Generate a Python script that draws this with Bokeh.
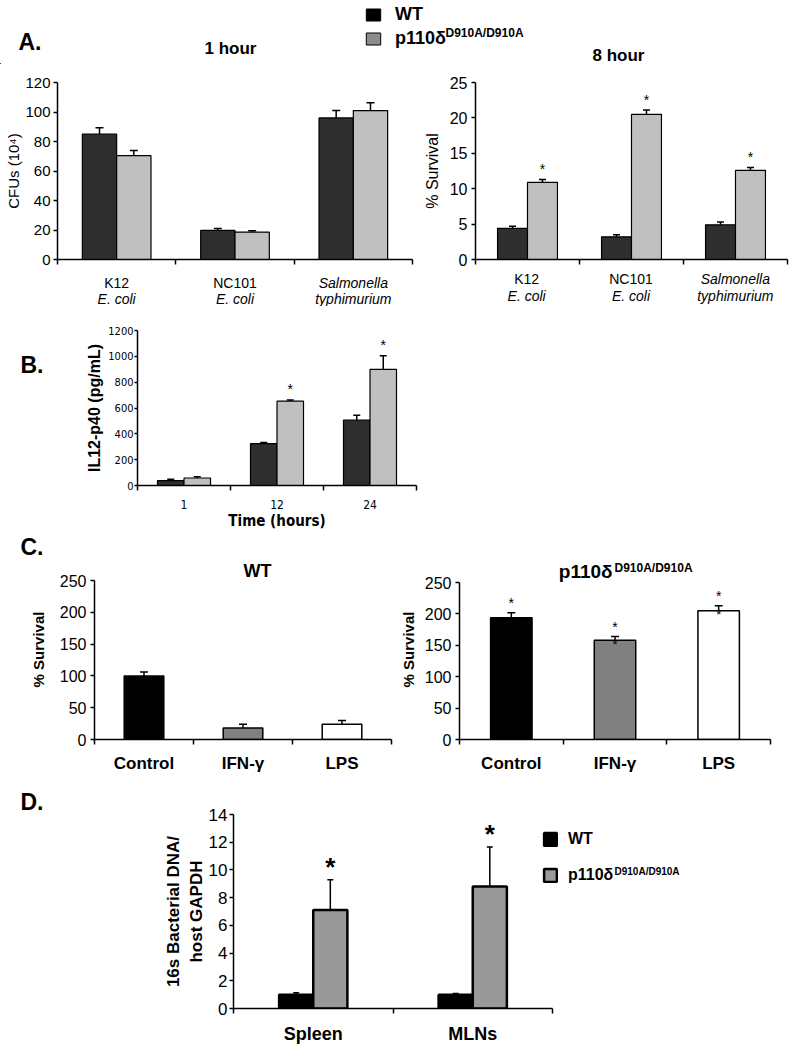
import numpy as np
from bokeh.plotting import figure
from bokeh.models import (ColumnDataSource, Range1d, FixedTicker, Whisker, TeeHead,
                          Label, LabelSet, Legend, LegendItem, Title)
from bokeh.layouts import column, row
from bokeh.embed import file_html
from bokeh.resources import INLINE
from bokeh.core.properties import value

# ---------------- data ----------------
a_line1 = ["K12", "NC101", "Salmonella"]
a_line2 = ["E. coli", "E. coli", "typhimurium"]
a_style1 = ["normal", "normal", "italic"]
a_style2 = ["italic", "italic", "italic"]

a1_wt = [85.0, 19.7, 96.0]
a1_wt_err = [4.4, 1.3, 5.1]
a1_mut = [70.4, 18.6, 101.0]
a1_mut_err = [3.5, 0.9, 5.3]

a2_wt = [4.4, 3.2, 4.9]
a2_wt_err = [0.3, 0.3, 0.4]
a2_mut = [10.9, 20.5, 12.6]
a2_mut_err = [0.4, 0.6, 0.4]
a2_sig = ["*", "*", "*"]

b_times = ["1", "12", "24"]
b_wt = [38, 324, 507]
b_wt_err = [10, 8, 36]
b_mut = [58, 653, 899]
b_mut_err = [10, 8, 106]
b_sig = ["", "*", "*"]

c_treat = ["Control", "IFN-γ", "LPS"]
c_colors = ["#000000", "#808080", "#ffffff"]
c_wt = [100, 18, 24]
c_wt_err = [6, 6, 6]
c_mut = [194, 158, 205]
c_mut_err = [8, 6, 8]
c_mut_sig = ["*", "*", "*"]
c_mut_inner = ["", "*", "*"]

d_tissue = ["Spleen", "MLNs"]
d_wt = [1.0, 1.0]
d_wt_err = [0.13, 0.08]
d_mut = [7.1, 8.8]
d_mut_err = [2.2, 2.85]
d_sig = ["*", "*"]

WT_NAME = "WT"
MUT_NAME = "p110δ"
MUT_SUP = "D910A/D910A"

FONT = "Liberation Sans"
NARROW = "Liberation Sans Narrow, DejaVu Sans Condensed, Liberation Sans"


class Geo:
    """pixel geometry of a figure's frame (page coordinates) and its data ranges"""

    def __init__(self, fl, fr, ft, fb, x0, x1, y0, y1):
        self.fl, self.fr, self.ft, self.fb = fl, fr, ft, fb
        self.x0, self.x1, self.y0, self.y1 = x0, x1, y0, y1

    def dx(self, X):
        return self.x0 + (X - self.fl) / (self.fr - self.fl) * (self.x1 - self.x0)

    def dy(self, Y):
        return self.y0 + (self.fb - Y) / (self.fb - self.ft) * (self.y1 - self.y0)


def strip(w, h, page_left, page_top):
    p = figure(width=w, height=h, x_range=Range1d(0, w), y_range=Range1d(0, h),
               min_border=0, x_axis_location=None, y_axis_location=None,
               output_backend="svg", toolbar_location=None)
    p.outline_line_color = None
    p.grid.visible = False
    g = Geo(page_left, page_left + w, page_top, page_top + h, 0, w, 0, h)
    return p, g


def base_fig(w, h, left, right, top, bottom, xend, ncat, yend, ymax, yticks):
    p = figure(width=w, height=h, min_border_left=left, min_border_right=right,
               min_border_top=top, min_border_bottom=bottom,
               x_range=Range1d(0, xend), y_range=Range1d(0, yend),
               output_backend="svg", toolbar_location=None)
    p.grid.visible = False
    p.outline_line_color = None
    for ax in p.axis:
        ax.axis_line_color = "black"
        ax.axis_line_width = 1.5
        ax.major_tick_line_color = "black"
        ax.minor_tick_line_color = "black"
        ax.major_tick_line_width = 1.5
        ax.minor_tick_line_width = 1.5
        ax.major_tick_in = 0
        ax.minor_tick_in = 0
        ax.major_label_text_font = FONT
        ax.major_label_text_color = "black"
        ax.axis_label_text_font = FONT
        ax.axis_label_text_color = "black"
    p.yaxis.ticker = FixedTicker(ticks=yticks, minor_ticks=[])
    p.yaxis.major_tick_out = 4
    p.yaxis.minor_tick_out = 0
    p.yaxis.bounds = (0, ymax)
    centers = [i + 0.5 for i in range(ncat)]
    p.xaxis.ticker = FixedTicker(ticks=centers, minor_ticks=list(range(ncat + 1)))
    p.xaxis.major_tick_out = 0
    p.xaxis.minor_tick_out = 5
    p.xaxis.bounds = (0, ncat)
    return p, np.array(centers)


def lab(p, g, X, Y, text, size, style="bold", align="left", baseline="middle"):
    p.add_layout(Label(x=g.dx(X), y=g.dy(Y), text=text, text_font=FONT,
                       text_font_size=size, text_font_style=style,
                       text_align=align, text_baseline=baseline, text_color="black"))


def grouped(p, centers, w, wt, wt_err, mut, mut_err, wt_color, mut_color, lw, cap, sig=None,
            star_size="14px", star_off=2, star_style="normal"):
    src_wt = ColumnDataSource(dict(x=centers - w / 2, top=wt,
                                   upper=np.array(wt) + np.array(wt_err)))
    src_mut = ColumnDataSource(dict(x=centers + w / 2, top=mut,
                                    upper=np.array(mut) + np.array(mut_err),
                                    sig=sig if sig is not None else [""] * len(mut)))
    r1 = p.vbar(x="x", top="top", width=w, bottom=0, source=src_wt, fill_color=wt_color,
                line_color="black", line_width=lw)
    r2 = p.vbar(x="x", top="top", width=w, bottom=0, source=src_mut, fill_color=mut_color,
                line_color="black", line_width=lw)
    for s in (src_wt, src_mut):
        p.add_layout(Whisker(base="x", lower="top", upper="upper", source=s,
                             lower_head=None,
                             upper_head=TeeHead(size=cap, line_width=1.5, line_color="black"),
                             line_width=1.5, line_color="black"))
    if sig is not None:
        p.add_layout(LabelSet(x="x", y="upper", text="sig", source=src_mut,
                              text_align="center", text_baseline="bottom", y_offset=star_off,
                              text_font=value(FONT), text_font_size=star_size,
                              text_font_style=star_style, text_color="black"))
    return r1, r2


def legend(items, loc, gw, gh, standoff, spacing, size):
    return Legend(items=items, location=loc, glyph_width=gw, glyph_height=gh,
                  label_standoff=standoff, spacing=spacing, padding=0, margin=0,
                  border_line_color=None, background_fill_alpha=0, label_text_font=FONT,
                  label_text_font_style="bold", label_text_font_size=size,
                  label_text_color="black", label_height=gh)


# ---------------- header strip : y 0 -> 64 ----------------
hdr, gh = strip(791, 64, 0, 0)
# legend swatch renderers: one bar each, kept outside the visible range
dr1 = hdr.vbar(x=[-100], top=[1], width=1, fill_color="#000000", line_color="black")
dr2 = hdr.vbar(x=[-100], top=[1], width=1, fill_color="#8c8c8c", line_color="black")
hdr.add_layout(legend([LegendItem(label=WT_NAME, renderers=[dr1]),
                       LegendItem(label=MUT_NAME, renderers=[dr2])],
                      (364, 15), 18, 15, 13, 3, "18px"))
lab(hdr, gh, 18, 41, "A.", "23px")
lab(hdr, gh, 230, 48, "1 hour", "17px", align="center")
lab(hdr, gh, 618, 55, "8 hour", "17px", align="center")
lab(hdr, gh, 445, 32, MUT_SUP, "12px")

# ---------------- A1 / A2 : y 64 -> 270 ----------------
a1, ca = base_fig(420, 206, 57, 8, 16, 8, 3, 3, 120, 120, [0, 20, 40, 60, 80, 100, 120])
grouped(a1, ca, 0.29, a1_wt, a1_wt_err, a1_mut, a1_mut_err, "#2e2e2e", "#c0c0c0", 1.2, 8)
a1.yaxis.axis_label = "CFUs (10⁴)"
a1.yaxis.axis_label_text_font_style = "normal"
a1.yaxis.axis_label_text_font_size = "15px"
a1.yaxis.major_label_text_font_size = "15px"
a1.yaxis.major_label_standoff = 3
a1.yaxis.axis_label_standoff = 0
a1.xaxis.major_label_text_font_size = "1px"
a1.xaxis.major_label_standoff = 0
a1.xaxis.major_label_overrides = {float(c): "" for c in ca}
g_a1 = Geo(57, 412, 80, 262, 0, 3, 0, 120)

a2, ca2 = base_fig(371, 206, 54, 4, 18, 11, 3, 3, 25, 25, [0, 5, 10, 15, 20, 25])
grouped(a2, ca2, 0.288, a2_wt, a2_wt_err, a2_mut, a2_mut_err, "#2e2e2e", "#c0c0c0", 1.2, 7,
        sig=a2_sig)
a2.yaxis.axis_label = "% Survival"
a2.yaxis.axis_label_text_font_style = "normal"
a2.yaxis.axis_label_text_font_size = "16px"
a2.yaxis.major_label_text_font_size = "16px"
a2.yaxis.major_label_standoff = 4
a2.yaxis.axis_label_standoff = 6
a2.xaxis.major_label_text_font_size = "1px"
a2.xaxis.major_label_standoff = 0
a2.xaxis.major_label_overrides = {float(c): "" for c in ca2}
g_a2 = Geo(474, 787, 82, 259, 0, 3, 0, 25)

# ---------------- A category strip : y 270 -> 306 ----------------
cat, gc = strip(791, 36, 0, 270)
cx, cy1, cy2, cl1, cl2, cs1, cs2 = [], [], [], [], [], [], []
for g, cs, y1, y2 in ((g_a1, ca, 282, 298), (g_a2, ca2, 278, 295)):
    for i, c in enumerate(cs):
        X = g.fl + (c - g.x0) / (g.x1 - g.x0) * (g.fr - g.fl)
        cx.append(gc.dx(X))
        cy1.append(gc.dy(y1))
        cy2.append(gc.dy(y2))
        cl1.append(a_line1[i])
        cl2.append(a_line2[i])
        cs1.append(a_style1[i])
        cs2.append(a_style2[i])
cat_src = ColumnDataSource(dict(x=cx, y1=cy1, y2=cy2, l1=cl1, l2=cl2, s1=cs1, s2=cs2))
for t, st, yy in (("l1", "s1", "y1"), ("l2", "s2", "y2")):
    cat.add_layout(LabelSet(x="x", y=yy, text=t, source=cat_src, text_align="center",
                            text_baseline="middle", text_font=value(FONT),
                            text_font_size="14px", text_font_style=st, text_color="black"))

# ---------------- B : y 306 -> 532 ----------------
bs, gbs = strip(52, 226, 0, 306)
lab(bs, gbs, 20, 357, "B.", "23px")

b, cb = base_fig(739, 226, 85, 375, 24, 43, 3, 3, 1200, 1200,
                 [0, 200, 400, 600, 800, 1000, 1200])
grouped(b, cb, 0.285, b_wt, b_wt_err, b_mut, b_mut_err, "#2e2e2e", "#c0c0c0", 1.2, 7,
        sig=b_sig, star_off=3)
b.yaxis.axis_label = "IL12-p40 (pg/mL)"
b.yaxis.axis_label_text_font_style = "bold"
b.yaxis.axis_label_text_font_size = "16px"
b.yaxis.major_label_text_font = NARROW
b.yaxis.major_label_text_font_size = "11px"
b.yaxis.major_tick_out = 3
b.yaxis.major_label_standoff = 1
b.yaxis.axis_label_standoff = 2
b.xaxis.major_label_overrides = {float(c): t for c, t in zip(cb, b_times)}
b.xaxis.major_label_text_font = NARROW
b.xaxis.major_label_text_font_size = "12px"
b.xaxis.major_label_standoff = 9
b.xaxis.axis_label = "Time (hours)"
b.xaxis.axis_label_text_font = NARROW
b.xaxis.axis_label_text_font_style = "bold"
b.xaxis.axis_label_text_font_size = "15px"
b.xaxis.axis_label_standoff = 0

# ---------------- C strip : y 532 -> 559 ----------------
cst, gcs = strip(791, 27, 0, 532)
lab(cst, gcs, 20, 546, "C.", "23px")

C_TOP = 559


# ---------------- C1 / C2 : y 559 -> 778 ----------------
def c_panel(w, left, right, top_px, vals, errs, sig, inner):
    fh = 739 - C_TOP
    yend = 250.0 * fh / (739 - top_px)
    p, cc = base_fig(w, 778 - C_TOP, left, right, 0, 39, 3, 3, yend, 250,
                     [0, 50, 100, 150, 200, 250])
    src = ColumnDataSource(dict(x=cc, top=vals, upper=np.array(vals) + np.array(errs),
                                color=c_colors, sig=sig if sig else [""] * 3,
                                inner=inner if inner else [""] * 3))
    p.vbar(x="x", top="top", width=0.4, bottom=0, source=src, fill_color="color",
           line_color="black", line_width=1.5)
    p.add_layout(Whisker(base="x", lower="top", upper="upper", source=src, lower_head=None,
                         upper_head=TeeHead(size=8, line_width=1.5, line_color="black"),
                         line_width=1.5, line_color="black"))
    if sig:
        p.add_layout(LabelSet(x="x", y="upper", text="sig", source=src, text_align="center",
                              text_baseline="bottom", y_offset=2, text_font=value(FONT),
                              text_font_size="14px", text_color="black"))
        p.add_layout(LabelSet(x="x", y="top", text="inner", source=src, text_align="center",
                              text_baseline="middle", y_offset=-4, text_font=value(FONT),
                              text_font_size="13px", text_color="black"))
    p.yaxis.axis_label = "% Survival"
    p.yaxis.axis_label_text_font_style = "bold"
    p.yaxis.axis_label_text_font_size = "15px"
    p.yaxis.major_label_text_font_size = "16px"
    p.yaxis.major_label_standoff = 4
    p.xaxis.major_label_overrides = {float(c): t for c, t in zip(cc, c_treat)}
    p.xaxis.major_label_text_font_size = "17px"
    p.xaxis.major_label_text_font_style = "bold"
    p.xaxis.major_label_standoff = 9
    return p, yend


c1, c1_yend = c_panel(396, 94, 5, 580, c_wt, c_wt_err, None, None)
c1.yaxis.axis_label_standoff = 10
g_c1 = Geo(94, 391, C_TOP, 739, 0, 3, 0, c1_yend)
lab(c1, g_c1, 257, 570, WT_NAME, "18px", align="center")

c2, c2_yend = c_panel(395, 61, 21, 582, c_mut, c_mut_err, c_mut_sig, c_mut_inner)
c2.yaxis.axis_label_standoff = 5
g_c2 = Geo(457, 770, C_TOP, 739, 0, 3, 0, c2_yend)
lab(c2, g_c2, 557, 571, MUT_NAME, "19px")
lab(c2, g_c2, 613, 567, MUT_SUP, "12px")

# ---------------- D : y 778 -> 1046 ----------------
d_xend = 2.0 * (791 - 233) / (552 - 233)
d, cd = base_fig(791, 268, 233, 0, 36, 37, d_xend, 2, 14, 14, [0, 2, 4, 6, 8, 10, 12, 14])
dr_wt, dr_mut = grouped(d, cd, 0.214, d_wt, d_wt_err, d_mut, d_mut_err, "#000000", "#999999",
                        2.5, 6, sig=d_sig, star_size="26px", star_off=-2, star_style="bold")
d.yaxis.axis_label = "16s Bacterial DNA/\nhost GAPDH"
d.yaxis.axis_label_text_font_style = "bold"
d.yaxis.axis_label_text_font_size = "17px"
d.yaxis.major_label_text_font_size = "17px"
d.yaxis.major_label_standoff = 2
d.yaxis.axis_label_standoff = 0
d.xaxis.major_label_overrides = {float(c): t for c, t in zip(cd, d_tissue)}
d.xaxis.major_label_text_font_size = "18px"
d.xaxis.major_label_text_font_style = "bold"
d.xaxis.major_label_standoff = 10
d.add_layout(legend([LegendItem(label=WT_NAME, renderers=[dr_wt]),
                     LegendItem(label=MUT_NAME, renderers=[dr_mut])],
                    (309, 124), 16, 16, 10, 18, "16px"))
d.add_layout(Title(text="D.", align="left", offset=-213, standoff=0, text_font=FONT,
                   text_font_size="23px", text_font_style="bold", text_color="black"),
             "above")
g_d = Geo(233, 791, 814, 1009, 0, d_xend, 0, 14)
lab(d, g_d, 614, 871, MUT_SUP, "10px")

layout = column(row(hdr), row(a1, a2), row(cat), row(bs, b), row(cst), row(c1, c2), row(d))
open("out.html", "w").write(file_html(layout, INLINE))
